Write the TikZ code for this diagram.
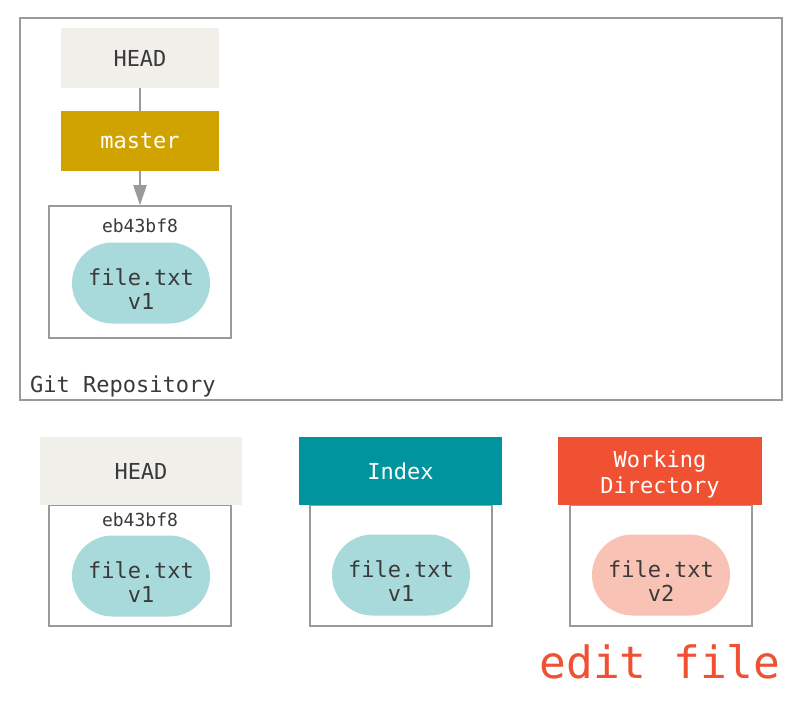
\documentclass[tikz,border=0pt]{standalone}
\usepackage{fontspec}
\setmonofont{DejaVu Sans Mono}
\usetikzlibrary{shapes.misc,arrows.meta}
\definecolor{headgray}{HTML}{F0EFEA}
\definecolor{mastergold}{HTML}{D1A300}
\definecolor{indexteal}{HTML}{00959E}
\definecolor{wdred}{HTML}{F05133}
\definecolor{blobblue}{HTML}{A8DADC}
\definecolor{blobpink}{HTML}{F8C3B5}
\definecolor{linegray}{HTML}{9A9A9A}
\definecolor{txtdark}{HTML}{3A3A3A}
\tikzset{
  hdr/.style={draw=none,minimum width=#1,minimum height=60pt,inner sep=0pt,font=\ttfamily\fontsize{22}{26}\selectfont,align=center},
  frame/.style={draw=linegray,line width=1.6pt,minimum width=182pt,minimum height=132pt,inner sep=0pt},
  blob/.style={rounded rectangle,draw=none,minimum width=138pt,minimum height=81pt,inner sep=0pt},
  blobtxt/.style={align=center,text=txtdark,inner sep=0pt,font=\ttfamily\fontsize{22}{24}\selectfont},
  hashlbl/.style={text=txtdark,font=\ttfamily\fontsize{18}{20}\selectfont,inner sep=0pt},
  conn/.style={draw=linegray,line width=1.6pt}
}
\begin{document}
\begin{tikzpicture}[x=1pt,y=-1pt]
\useasboundingbox (0,0) rectangle (800,702);
\fill[white] (0,0) rectangle (800,702);
% repository
\node[draw=linegray,line width=1.6pt,minimum width=762pt,minimum height=382pt,inner sep=0pt] (repo) at (401,209) {};
\node[anchor=base west,text=txtdark,font=\ttfamily\fontsize{22}{24}\selectfont,inner sep=0pt] (repolbl) at (30,392) {Git Repository};
\node[hdr=158pt,minimum height=60pt,fill=headgray,text=txtdark] (head) at (140,58) {HEAD};
\node[hdr=158pt,minimum height=60pt,fill=mastergold,text=white] (master) at (140,141) {master};
\node[frame] (commit) at (140,272) {};
\node[hashlbl] (hash) at (140,226) {eb43bf8};
\node[blob,fill=blobblue] (blob) at (141,283) {};
\node[blobtxt] (blobt) at (141,289) {file.txt\\v1};
\draw[conn] (head.south) -- (master.north);
\draw[conn,-{Triangle[length=20pt,width=13pt]}] (master.south) -- (commit.north);
% bottom: HEAD
\node[frame,minimum height=121pt] (hframe) at (140,565.5) {};
\node[hdr=202pt,minimum height=68pt,fill=headgray,text=txtdark] (head2) at (141,471) {HEAD};
\node[hashlbl] (hash2) at (140,520) {eb43bf8};
\node[blob,fill=blobblue] (blob2) at (141,576) {};
\node[blobtxt] (blob2t) at (141,582) {file.txt\\v1};
% Index
\node[frame,minimum height=121pt] (iframe) at (401,565.5) {};
\node[hdr=203pt,minimum height=68pt,fill=indexteal,text=white] (index) at (400.5,471) {Index};
\node[blob,fill=blobblue] (blob3) at (401,575) {};
\node[blobtxt] (blob3t) at (401,581) {file.txt\\v1};
% Working directory
\node[frame,minimum height=121pt] (wframe) at (661,565.5) {};
\node[hdr=204pt,minimum height=68pt,fill=wdred,text=white] (wd) at (660,471) {};
\node[text=white,align=center,inner sep=0pt,font=\ttfamily\fontsize{22}{26}\selectfont] (wdt) at (660,474) {Working\\Directory};
\node[blob,fill=blobpink] (blob4) at (661,575) {};
\node[blobtxt] (blob4t) at (661,581) {file.txt\\v2};
\node[text=wdred,font=\ttfamily\fontsize{44.5}{48}\selectfont,inner sep=0pt] (edit) at (660,662) {edit file};
\end{tikzpicture}
\end{document}
